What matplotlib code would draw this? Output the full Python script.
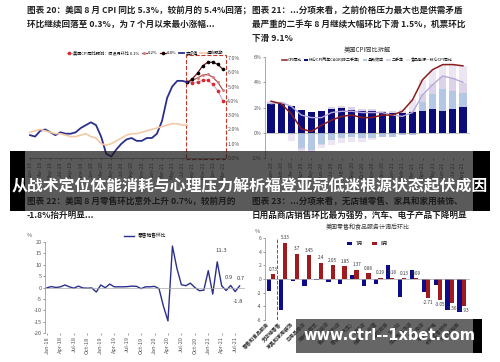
#!/usr/bin/env python
# Composite of four small charts with a banner title and a watermark box

import matplotlib
matplotlib.use("Agg")
import matplotlib.pyplot as plt
from matplotlib.patches import Rectangle

plt.rcParams["font.family"] = ["Noto Sans CJK SC", "DejaVu Sans"]
plt.rcParams["axes.unicode_minus"] = False

W, H = 500, 362

# ---------------- data: chart 20 (CPI yoy, Jan-19 .. Mar-22)
mon = ["Jan", "Feb", "Mar", "Apr", "May", "Jun", "Jul", "Aug", "Sep", "Oct", "Nov", "Dec"]
cpi_months = ["%s-%d" % (mon[i % 12], 19 + i // 12) for i in range(39)]
cpi_actual = [1.6, 1.5, 1.9, 2.0, 1.8, 1.6, 1.8, 1.7, 1.7, 1.8, 2.1, 2.3,
              2.5, 2.3, 1.5, 0.3, 0.1, 0.6, 1.0, 1.3, 1.4, 1.2, 1.2, 1.4,
              1.4, 1.7, 2.6, 4.2, 5.0, 5.4, 5.4, 5.3]
cpi_expect = [1.8, 1.9, 2.0, 1.9, 1.8, 1.7, 1.7, 1.6, 1.5, 1.5, 1.6, 1.7,
              1.5, 1.4, 1.0, 0.9, 1.0, 1.2, 1.4, 1.6, 1.7, 1.7, 1.8, 1.9,
              2.0, 2.1, 2.2, 2.3, 2.4, 2.4, 2.3, 2.3]
proj_01 = [5.3, 5.25, 5.3, 5.45, 5.45, 5.15, 4.7, 4.0]
proj_02 = [5.3, 5.45, 5.6, 5.8, 5.85, 5.65, 5.3, 4.75]
proj_04 = [5.3, 5.55, 5.95, 6.45, 6.7, 6.7, 6.55, 6.2]

# ---------------- data: chart 21 (CPI decomposition, Jan-20 .. Aug-21)
dec_months = ["%s-%d" % (mon[i % 12], 20 + i // 12) for i in range(20)]
core_cagr = [2.30, 2.30, 2.10, 1.80, 1.65, 1.75, 1.90, 1.95, 1.80, 1.70,
             1.70, 1.65, 1.60, 1.60, 1.65, 1.75, 1.85, 1.75, 1.90, 2.05]
base_eff = [0.05, 0.05, -0.10, -1.20, -1.40, -0.90, -0.60, -0.40, -0.35, -0.40,
            -0.40, -0.35, -0.30, -0.20, -0.15, 0.70, 1.25, 1.70, 1.40, 1.10]
used_car = [0.05, 0.05, 0.00, -0.15, -0.15, -0.05, 0.10, 0.20, 0.25, 0.20,
            0.15, 0.10, 0.10, 0.05, 0.10, 0.60, 0.80, 1.00, 1.00, 0.80]
food_en = [0.15, -0.05, -0.55, -0.20, 0.00, -0.25, -0.40, -0.45, -0.35, -0.30,
           -0.20, 0.00, 0.00, 0.25, 0.95, 1.15, 1.10, 0.95, 1.10, 1.35]
cpi_yoy = [2.5, 2.3, 1.5, 0.3, 0.1, 0.6, 1.0, 1.3, 1.4, 1.2,
           1.2, 1.4, 1.4, 1.7, 2.6, 4.2, 5.0, 5.4, 5.4, 5.3]
core_yoy = [2.3, 2.4, 2.1, 1.4, 1.2, 1.2, 1.6, 1.7, 1.7, 1.6,
            1.6, 1.6, 1.4, 1.3, 1.6, 3.0, 3.8, 4.5, 4.3, 4.0]

# ---------------- data: chart 22 (retail sales mom, Jan-18 .. Aug-21)
rs_months = ["%s-%d" % (mon[i % 12], 18 + i // 12) for i in range(44)]
retail_mom = [-0.1, 0.4, 0.0, 0.3, 1.1, 0.3, -0.3, 0.6, -0.2, -0.3, -0.2, -2.0,
              1.1, -0.1, 1.5, 0.3, 0.3, 0.3, 0.4, 0.6, 0.5, -0.5, 0.3, 0.3,
              0.5, -0.5, -8.3, -14.7, 18.2, 8.4, 1.2, 0.8, 1.9, 0.0, -1.4, -1.2,
              7.4, -2.9, 11.3, 0.7, -1.3, 0.9, -1.8, 0.7]

# ---------------- data: chart 23 (retail components, Jul/Aug mom)
rc_names = ["零售和食品服务", "无店铺零售", "家具和家用装饰", "日用品商店",
            "建材及园艺", "杂货店", "食品和饮料店", "零售(除汽车)", "服装店",
            "健康个人护理", "餐饮服务", "加油站", "体育用品书店", "百货商店",
            "电子和家电", "机动车零部件", "汽车经销商"]
rc_jul = [-1.8, -4.6, -0.3, -1.0, -0.1, -0.4, -0.8, 0.6, -1.0, -0.7,
          2.0, -2.7, 1.3, -1.9, -0.9, -4.5, -4.9]
rc_aug = [0.73, 5.33, 3.7, 3.45, 2.4, 2.05, 1.85, 1.37, 0.86, 0.19,
          0.18, 0.13, 0.09, -2.71, -3.05, -3.56, -3.93]

titles = [
    ((27, 10), "图表 20：美国 8 月 CPI 同比 5.3%，较前月的 5.4%回落；"),
    ((27, 24), "环比继续回落至 0.3%，为 7 个月以来最小涨幅..."),
    ((252, 10), "图表 21：...分项来看，之前价格压力最大也是供需矛盾"),
    ((252, 24), "最严重的二手车 8 月继续大幅环比下滑 1.5%，机票环比"),
    ((252, 38), "下滑 9.1%"),
    ((27, 201), "图表 22：美国 8 月零售环比意外上升 0.7%，较前月的"),
    ((27, 215), "-1.8%抬升明显..."),
    ((252, 201), "图表 23：...分项来看，无店铺零售、家具和家用装饰、"),
    ((252, 215), "日用品商店销售环比最为强势，汽车、电子产品下降明显"),
]
banner = "从战术定位体能消耗与心理压力解析福登亚冠低迷根源状态起伏成因"
watermark = "www.ctrl--1xbet.com"


def rect(l, t, r, b):
    return [l / W, 1 - b / H, (r - l) / W, (b - t) / H]


def tidy(ax, fs=4.2, color="#555555"):
    for s in ["top", "right"]:
        ax.spines[s].set_visible(False)
    ax.tick_params(labelsize=fs, colors=color, length=1.5, width=0.4, pad=1)
    for s in ax.spines.values():
        s.set_linewidth(0.5)
        s.set_color("#888888")


fig = plt.figure(figsize=(5, 3.62), dpi=100, facecolor="white")

for (x, y), t in titles:
    fig.text(x / W, 1 - y / H, t, fontsize=6.2, fontweight="bold",
             color="#222222", va="center", ha="left")

# ---------------- chart 20
ax1 = fig.add_axes(rect(28.5, 58, 226, 158))
xa = list(range(len(cpi_actual)))
xp = list(range(len(cpi_actual) - 1, len(cpi_actual) - 1 + len(proj_01)))
ax1.plot(xp, proj_01, color="#c7a8d0", lw=0.8, marker="o", ms=1.6,
         mfc="#e0262a", mec="#e0262a", label="美国CPI同比预测：假设月环比 0.1%")
ax1.plot(xp, proj_02, color="#a85050", lw=0.9, marker="o", ms=1.2,
         mfc="#d98080", mec="#d98080", label="0.2%")
ax1.plot(xp, proj_04, color="#7a1010", lw=0.9, marker="o", ms=1.6,
         mfc="black", mec="black", label="0.4%")
ax1.plot(xa, cpi_actual, color="#2b2f8c", lw=1.3, label="实际值")
ax1.plot(xa, cpi_expect, color="#f3c9a5", lw=1.2, label="通胀预期")
ax1.set_ylim(0, 7)
ax1.set_xlim(-0.3, 38.6)
ax1.yaxis.tick_right()
ax1.set_yticks(range(8))
ax1.set_yticklabels(["%.1f%%" % v for v in range(8)])
ax1.set_xticks(range(0, 39, 2))
ax1.set_xticklabels(cpi_months[::2], rotation=90)
tidy(ax1, fs=3.8)
ax1.spines["left"].set_visible(False)
ax1.tick_params(axis="y", length=0)
ax1.add_patch(Rectangle((30.7, -0.1), 7.9, 7.3, fill=False, ec="#c0392b",
                        lw=0.8, ls="--", clip_on=False))
ax1.legend(loc="lower right", bbox_to_anchor=(1.0, 1.0), ncol=5, fontsize=3.0,
           frameon=False, handlelength=1.3, columnspacing=0.6, borderaxespad=0.3,
           handletextpad=0.25)

# ---------------- chart 21
ax2 = fig.add_axes(rect(265, 57, 470, 158))
comps = [(core_cagr, "#0b0b7a", "核心CPI两年CAGR(除二手车)"),
         (base_eff, "#b4c8e6", "基数效应"),
         (used_car, "#dcd3ea", "二手车"),
         (food_en, "#ebe6f2", "食品能源—核心CPI同比")]
xb = list(range(len(dec_months)))
pos = [0.0] * len(xb)
neg = [0.0] * len(xb)
for vals, col, lab in comps:
    bottoms = [pos[i] if v >= 0 else neg[i] for i, v in enumerate(vals)]
    ax2.bar(xb, vals, bottom=bottoms, width=0.72, color=col, label=lab)
    for i, v in enumerate(vals):
        if v >= 0:
            pos[i] += v
        else:
            neg[i] += v
ax2.plot(xb, core_yoy, color="#b8a8d8", lw=1.0)
ax2.plot(xb, cpi_yoy, color="#8b1c1c", lw=1.1, label="CPI同比")
ax2.axhline(0, color="#999999", lw=0.4)
ax2.set_ylim(-2, 6)
ax2.set_xlim(-0.6, 19.7)
ax2.set_yticks([-2, 0, 2, 4, 6])
ax2.set_yticklabels(["-2%", "0%", "2%", "4%", "6%"])
ax2.get_yticklabels()[0].set_color("#d04040")
ax2.set_xticks(xb)
ax2.set_xticklabels(dec_months, rotation=90)
tidy(ax2, fs=3.8)
ax2.spines["bottom"].set_visible(False)
ax2.set_title("美国CPI同比拆解", fontsize=4.5, color="#333333", pad=3)
ax2.legend(loc="lower center", bbox_to_anchor=(0.5, 0.93), ncol=5, fontsize=2.9,
           frameon=False, handlelength=1.1, columnspacing=0.5,
           handletextpad=0.25, borderaxespad=0)

# ---------------- chart 22
ax3 = fig.add_axes(rect(45, 242, 245, 333))
xr = list(range(len(retail_mom)))
ax3.plot(xr, retail_mom, color="#2b2f8c", lw=1.0, label="零售销售环比")
ax3.axhline(0, color="#aaaaaa", lw=0.5)
ax3.set_ylim(-20, 20)
ax3.set_xlim(-0.45, 44.2)
ax3.set_yticks(range(-20, 21, 5))
ax3.set_xticks(range(0, 44, 3))
ax3.set_xticklabels(rs_months[::3], rotation=90)
tidy(ax3, fs=4.0)
ax3.spines["bottom"].set_visible(False)
ax3.text(-0.09, 1.06, "%", transform=ax3.transAxes, fontsize=4.2, color="#555555")
for i, txt, dx, dy in [(38, "11.3", 3, 8), (41, "0.9", -1, 6), (43, "0.7", 1, 5),
                       (42, "-1.8", 2, -7)]:
    ax3.annotate(txt, (xr[i], retail_mom[i]), xytext=(dx, dy),
                 textcoords="offset points", fontsize=4.3, color="#444444",
                 ha="center", va="center")
ax3.legend(loc="lower center", bbox_to_anchor=(0.5, 1.02), fontsize=3.4,
           frameon=False, handlelength=2.0, borderaxespad=0)

# ---------------- chart 23
ax4 = fig.add_axes(rect(265, 238, 470, 320))
xc = list(range(len(rc_names)))
bw = 0.36
ax4.bar([x - bw / 2 for x in xc], rc_jul, width=bw, color="#0c0c8a", label="7月")
ax4.bar([x + bw / 2 for x in xc], rc_aug, width=bw, color="#a01a1e", label="8月")
for x, v in zip(xc, rc_aug):
    ax4.text(x + bw / 2, v + (0.35 if v >= 0 else -0.35), "%g" % v,
             fontsize=3.3, ha="center", va="bottom" if v >= 0 else "top",
             color="#333333")
ax4.axhline(0, color="#aaaaaa", lw=0.5)
ax4.axvline(0.5, color="#d03030", lw=0.7, ls="--")
ax4.set_ylim(-6, 6)
ax4.set_xlim(-0.5, 16.7)
ax4.set_yticks(range(-6, 7, 2))
ax4.set_xticks(xc)
ax4.set_xticklabels(rc_names, rotation=45, ha="right", fontweight="bold")
tidy(ax4, fs=3.6)
ax4.spines["bottom"].set_visible(False)
ax4.tick_params(axis="x", length=0, colors="#333333")
ax4.text(-0.05, 1.06, "%", transform=ax4.transAxes, fontsize=4.2, color="#555555")
ax4.set_title("美国零售和食品服务计调后环比", fontsize=4.3, color="#333333", pad=6)
ax4.legend(loc="upper center", bbox_to_anchor=(0.5, 1.0), ncol=2, fontsize=3.4,
           frameon=False, handlelength=1.0, handleheight=0.6, borderaxespad=0.2)


# ---------------- banner overlay
def box(l, t, r, b, color, alpha):
    fig.add_artist(Rectangle((l / W, 1 - b / H), (r - l) / W, (b - t) / H,
                             transform=fig.transFigure, facecolor=color,
                             edgecolor="none", alpha=alpha, zorder=50))


box(10, 151, 25, 211, "black", 1.0)
box(25, 151, 473, 211, "#1a1a1a", 0.72)
box(473, 151, 490, 211, "black", 1.0)
fig.text(250 / W, 1 - 186 / H, banner, fontsize=11.4, fontweight="bold",
         color="white", ha="center", va="center", zorder=60)

# ---------------- watermark box
box(296, 319, 473, 353, "#333333", 0.75)
box(473, 319, 482, 353, "black", 1.0)
fig.text(389 / W, 1 - 336 / H, watermark, fontsize=10.5, fontweight="bold",
         color="white", ha="center", va="center", zorder=60,
         family="DejaVu Sans")

fig.savefig("out.png", dpi=100, facecolor="white")
